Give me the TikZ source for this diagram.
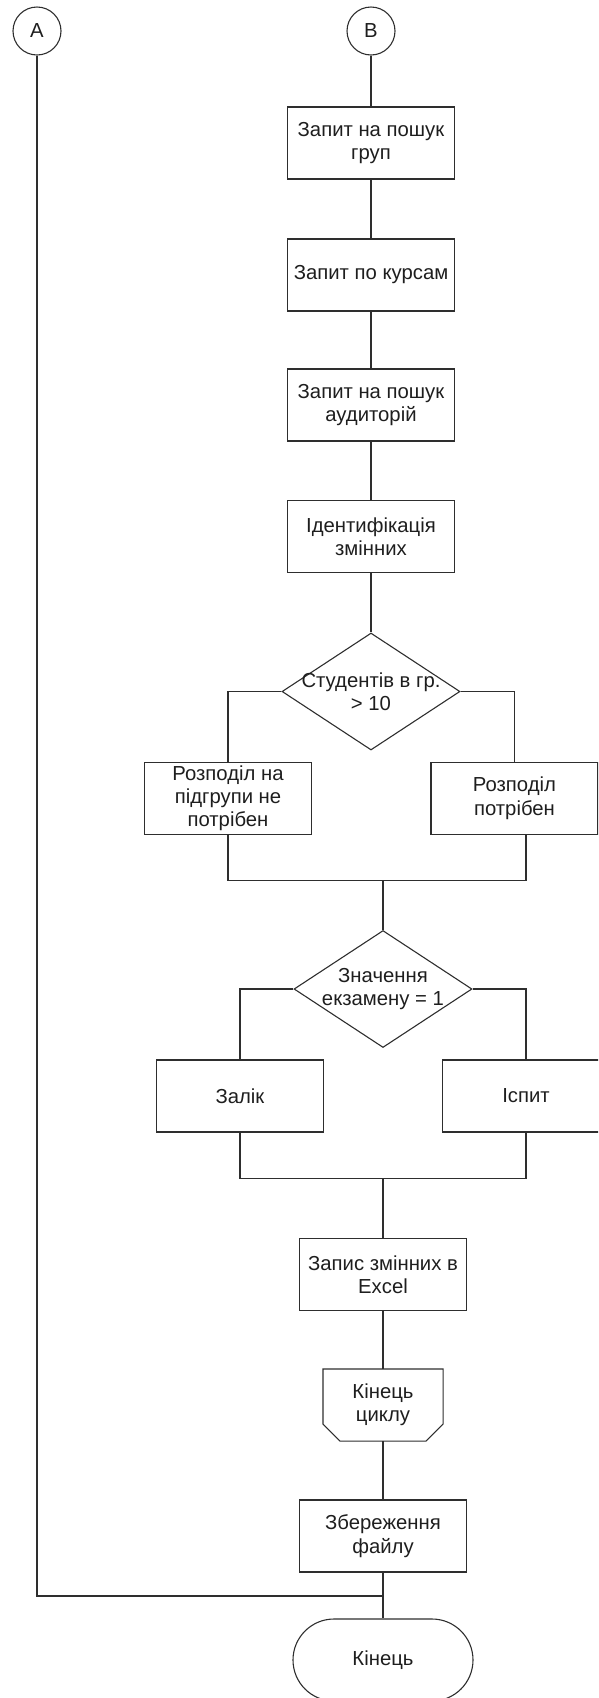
\documentclass[tikz,border=0pt]{standalone}
\usepackage{fontspec}
\setmainfont{Liberation Sans}
\usetikzlibrary{shapes.geometric}
\definecolor{ink}{HTML}{2E2E2E}
\definecolor{txt}{HTML}{1E1E1E}
\begin{document}
\begin{tikzpicture}[x=1pt,y=-1pt,line width=1.1pt,color=ink,
  base/.style={font=\fontsize{20.3}{23.4}\selectfont,text=txt,align=center,inner sep=0pt},
  proc/.style={base,draw,rectangle,minimum width=167pt,minimum height=72pt},
  conn/.style={base,draw,circle,minimum size=48pt},
  decision/.style={draw,diamond,minimum width=178pt,minimum height=117pt,inner sep=0pt},
  loopend/.style={base,rectangle,minimum width=119pt,minimum height=71pt},
  terminal/.style={base,draw,rectangle,rounded corners=41pt,minimum width=180pt,minimum height=82pt}]
\clip (0,0) rectangle (598,1698);

% connectors A and B
\node[conn] (A) at (37,31) {A};
\node[conn] (B) at (371,31) {B};

% main chain
\node[proc] (q1) at (371,143) {Запит на пошук\\груп};
\node[proc] (q2) at (371,275) {Запит по курсам};
\node[proc] (q3) at (371,405) {Запит на пошук\\аудиторій};
\node[proc] (q4) at (371,536.5) {Ідентифікація\\змінних};

% first decision
\node[decision] (d1) at (371,691.5) {};
\node[base] (d1t) at (d1) {Студентів в гр.\\> 10};
\node[proc] (L1) at (228,798.3) {Розподіл на\\підгрупи не\\потрібен};
\node[proc] (R1) at (514.5,798.3) {Розподіл\\потрібен};
\coordinate (m1) at (383,880.7);

% second decision
\node[decision] (d2) at (383,989) {};
\node[base] (d2t) at (d2) {Значення\\екзамену = 1};
\node[proc] (zal) at (240,1096) {Залік};
\node[proc] (isp) at (526,1096) {Іспит};
\coordinate (m2) at (383,1178.3);

% tail
\node[proc] (xl) at (383,1274.5) {Запис змінних в\\Excel};
\node[loopend] (le) at (383,1405) {Кінець\\циклу};
\draw (le.north west) -- (le.north east) -- ([yshift=17pt]le.south east)
  -- ([xshift=-17pt]le.south east) -- ([xshift=17pt]le.south west)
  -- ([yshift=17pt]le.south west) -- cycle;
\node[proc] (sv) at (383,1536) {Збереження\\файлу};
\coordinate (j) at (383,1596);
\node[terminal] (end) at (383,1660) {Кінець};

% wiring
\draw (B.south) -- (q1.north);
\draw (q1.south) -- (q2.north);
\draw (q2.south) -- (q3.north);
\draw (q3.south) -- (q4.north);
\draw (q4.south) -- (d1.north);
\draw (d1.west) -| (L1.north);
\draw (d1.east) -| (R1.north);
\draw (L1.south) |- (m1) -| ([xshift=11.5pt]R1.south);
\draw (m1) -- (d2.north);
\draw (d2.west) -| (zal.north);
\draw (d2.east) -| (isp.north);
\draw (zal.south) |- (m2) -| (isp.south);
\draw (m2) -- (xl.north);
\draw (xl.south) -- (le.north);
\draw (le.south) -- (sv.north);
\draw (sv.south) -- (end.north);
\draw (A.south) |- (j);
\end{tikzpicture}
\end{document}
